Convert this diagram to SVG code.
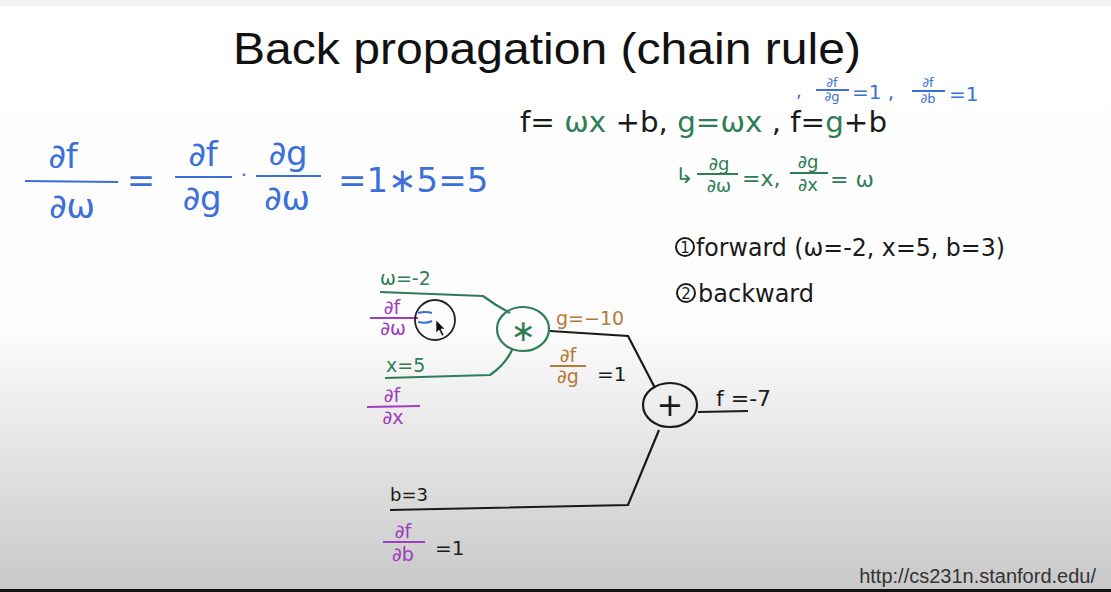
<svg xmlns="http://www.w3.org/2000/svg" width="1111" height="592" viewBox="0 0 1111 592">
<defs>
<linearGradient id="bg" x1="0" y1="0" x2="0" y2="1">
<stop offset="0" stop-color="#ffffff"/>
<stop offset="0.55" stop-color="#fdfdfd"/>
<stop offset="1" stop-color="#c8c8c8"/>
</linearGradient>
</defs>
<style>
.hw{font-family:"DejaVu Sans","Liberation Sans",sans-serif;}
.blue{fill:#3b6fd9;}
.green{fill:#2e7d55;}
.blk{fill:#1a1a1a;}
.purple{fill:#a03cc0;}
.brown{fill:#b57a3a;}
.lb{stroke:#3b6fd9;stroke-width:2;fill:none;}
.lg{stroke:#2e7d55;stroke-width:2;fill:none;}
.lp{stroke:#a03cc0;stroke-width:2;fill:none;}
.lo{stroke:#b57a3a;stroke-width:2;fill:none;}
.lk{stroke:#1a1a1a;stroke-width:2;fill:none;}
.wire-g{stroke:#2e7d55;stroke-width:2.2;fill:none;}
.wire-k{stroke:#1a1a1a;stroke-width:2.2;fill:none;}
</style>
<rect x="0" y="0" width="1111" height="592" fill="url(#bg)"/>
<rect x="0" y="0" width="1111" height="6" fill="#f4f4f4"/>
<rect x="0" y="589" width="1111" height="3" fill="#111"/>

<text x="547" y="64" text-anchor="middle" font-family="Liberation Sans, sans-serif" font-size="44" fill="#111" textLength="628" lengthAdjust="spacingAndGlyphs">Back propagation (chain rule)</text>

<g id="chain-eq">
<text class="hw blue" x="63" y="168" font-size="34" text-anchor="middle">∂f</text>
<path class="lb" d="M25 181 L118 182"/>
<text class="hw blue" x="72" y="218" font-size="34" text-anchor="middle">∂ω</text>
<text class="hw blue" x="141" y="192" font-size="34" text-anchor="middle">=</text>
<text class="hw blue" x="203" y="166" font-size="34" text-anchor="middle">∂f</text>
<path class="lb" d="M175 177 L232 177"/>
<text class="hw blue" x="202" y="210" font-size="34" text-anchor="middle">∂g</text>
<text class="hw blue" x="244" y="182" font-size="20" text-anchor="middle">·</text>
<text class="hw blue" x="288" y="165" font-size="34" text-anchor="middle">∂g</text>
<path class="lb" d="M256 176 L321 176"/>
<text class="hw blue" x="287" y="210" font-size="34" text-anchor="middle">∂ω</text>
<text class="hw blue" x="338" y="192" font-size="34">=1∗5=5</text>
</g>

<g id="derivs-blue">
<text class="hw blue" x="796" y="97" font-size="18">,</text>
<text class="hw blue" x="832" y="87" font-size="13" text-anchor="middle">∂f</text>
<path class="lb" d="M816 90 L849 90"/>
<text class="hw blue" x="832" y="101" font-size="13" text-anchor="middle">∂g</text>
<text class="hw blue" x="852" y="99" font-size="20">=1 ,</text>
<text class="hw blue" x="928" y="87" font-size="13" text-anchor="middle">∂f</text>
<path class="lb" d="M912 91 L945 91"/>
<text class="hw blue" x="928" y="103" font-size="13" text-anchor="middle">∂b</text>
<text class="hw blue" x="949" y="101" font-size="20">=1</text>
</g>

<g id="function-def">
<text class="hw" x="520" y="132" font-size="29" textLength="367" lengthAdjust="spacingAndGlyphs"><tspan class="blk">f= </tspan><tspan class="green">ωx</tspan><tspan class="blk"> +b, </tspan><tspan class="green">g=ωx</tspan><tspan class="blk"> , f=</tspan><tspan class="green">g</tspan><tspan class="blk">+b</tspan></text>
</g>

<g id="local-grads">
<text class="hw green" x="675" y="183" font-size="22">↳</text>
<text class="hw green" x="719" y="170" font-size="18" text-anchor="middle">∂g</text>
<path class="lg" d="M697 174 L738 174"/>
<text class="hw green" x="719" y="192" font-size="18" text-anchor="middle">∂ω</text>
<text class="hw green" x="742" y="186" font-size="22">=x,</text>
<text class="hw green" x="808" y="168" font-size="18" text-anchor="middle">∂g</text>
<path class="lg" d="M790 173 L828 173"/>
<text class="hw green" x="808" y="191" font-size="18" text-anchor="middle">∂x</text>
<text class="hw green" x="830" y="187" font-size="22">= ω</text>
</g>

<g id="steps">
<circle cx="685" cy="247" r="9" class="lk" stroke-width="1.6"/>
<text class="hw blk" x="685" y="253" font-size="15" text-anchor="middle">1</text>
<text class="hw blk" x="696" y="256" font-size="24" textLength="309" lengthAdjust="spacingAndGlyphs">forward (ω=-2, x=5, b=3)</text>
<circle cx="686" cy="293" r="9" class="lk" stroke-width="1.6"/>
<text class="hw blk" x="686" y="299" font-size="15" text-anchor="middle">2</text>
<text class="hw blk" x="698" y="302" font-size="24">backward</text>
</g>

<g id="connectors">
<path class="wire-g" d="M380 292 L483 296 Q495 305 510 313"/>
<path class="wire-g" d="M385 378 L490 375 Q505 365 512 350"/>
<path class="wire-k" d="M550 331 L628 336 L655 388"/>
<path class="wire-k" d="M390 510 L628 505 L659 430"/>
<path class="wire-k" d="M698 412 L748 411"/>
</g>

<g id="node-mul">
<ellipse cx="523" cy="329" rx="26" ry="22" class="wire-g"/>
<text class="hw green" x="523" y="341" font-size="30" text-anchor="middle">∗</text>
</g>

<g id="node-add">
<ellipse cx="670" cy="405" rx="27" ry="22" class="wire-k"/>
<text class="hw blk" x="670" y="416" font-size="32" text-anchor="middle">+</text>
</g>

<g id="input-w">
<text class="hw green" x="380" y="285" font-size="19">ω=-2</text>
<text class="hw purple" x="392" y="314" font-size="19" text-anchor="middle">∂f</text>
<path class="lp" d="M370 318 L418 318"/>
<text class="hw purple" x="393" y="335" font-size="19" text-anchor="middle">∂ω</text>
<circle cx="435" cy="320" r="20" fill="none" stroke="#222" stroke-width="1.8"/>
<path class="lb" d="M418 313 Q426 311 432 313 M418 322 Q426 324 432 321"/>
<path d="M436 320 L436 333 L439 330 L442 336 L444 335 L441 329 L445 329 Z" fill="#111" stroke="#fff" stroke-width="0.6"/>
</g>

<g id="input-x">
<text class="hw green" x="386" y="372" font-size="19">x=5</text>
<text class="hw purple" x="392" y="402" font-size="19" text-anchor="middle">∂f</text>
<path class="lp" d="M367 407 L420 406"/>
<text class="hw purple" x="393" y="424" font-size="19" text-anchor="middle">∂x</text>
</g>

<g id="value-g">
<text class="hw brown" x="556" y="325" font-size="19">g=−10</text>
<text class="hw brown" x="568" y="362" font-size="19" text-anchor="middle">∂f</text>
<path class="lo" d="M550 366 L586 366"/>
<text class="hw brown" x="568" y="383" font-size="19" text-anchor="middle">∂g</text>
<text class="hw blk" x="597" y="381" font-size="20">=1</text>
</g>

<g id="output-f">
<text class="hw blk" x="716" y="406" font-size="22">f =-7</text>
</g>

<g id="input-b">
<text class="hw blk" x="390" y="501" font-size="18">b=3</text>
<text class="hw purple" x="403" y="538" font-size="19" text-anchor="middle">∂f</text>
<path class="lp" d="M383 542 L425 542"/>
<text class="hw purple" x="403" y="561" font-size="19" text-anchor="middle">∂b</text>
<text class="hw blk" x="435" y="555" font-size="20">=1</text>
</g>

<text x="1096" y="583" text-anchor="end" font-family="Liberation Sans, sans-serif" font-size="20" fill="#333">http://cs231n.stanford.edu/</text>
</svg>
